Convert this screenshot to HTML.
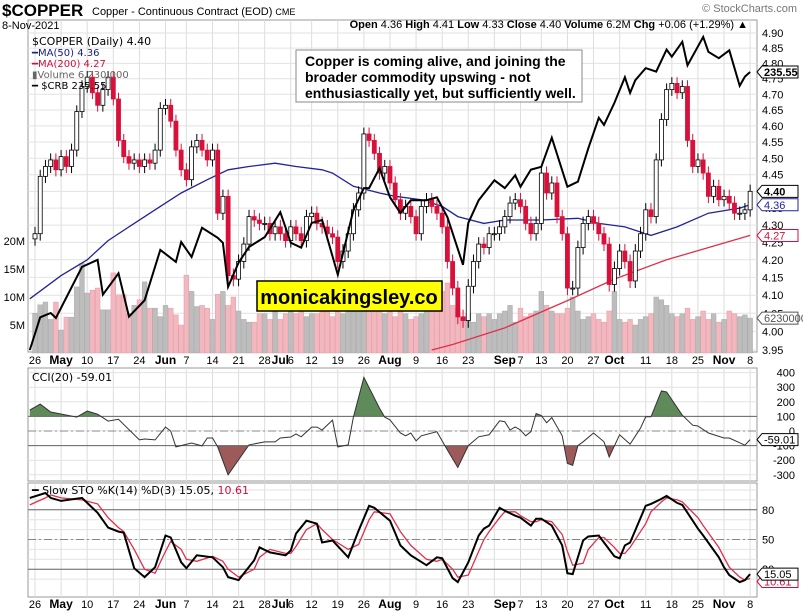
<!DOCTYPE html>
<html><head><meta charset="utf-8">
<style>
html,body{margin:0;padding:0;background:#fff;}
body{width:803px;height:611px;overflow:hidden;position:relative;font-family:"Liberation Sans",sans-serif;}
svg{position:absolute;left:0;top:0;}
</style></head>
<body>
<svg id="chart" width="803" height="611" viewBox="0 0 803 611" xmlns="http://www.w3.org/2000/svg" font-family="Liberation Sans, sans-serif">
<g id="grid"></g>
<g id="vol"></g>
<g id="ma"></g>
<g id="candles"></g>
<g id="crb"></g>
<g id="cci"></g>
<g id="sto"></g>
<g id="axes"></g>
<g id="hdr">
 <text x="2" y="16" font-size="17" font-weight="bold">$COPPER</text>
 <text x="92" y="15" font-size="11">Copper - Continuous Contract (EOD) <tspan font-size="9">CME</tspan></text>
 <text x="2" y="29" font-size="11">8-Nov-2021</text>
 <text x="797" y="12" font-size="11" fill="#777" text-anchor="end">© StockCharts.com</text>
 <text x="748" y="28" font-size="11" text-anchor="end"><tspan font-weight="bold">Open</tspan> 4.36 <tspan font-weight="bold">High</tspan> 4.41 <tspan font-weight="bold">Low</tspan> 4.33 <tspan font-weight="bold">Close</tspan> 4.40 <tspan font-weight="bold">Volume</tspan> 6.2M <tspan font-weight="bold">Chg</tspan> +0.06 (+1.29%) ▲</text>
</g>
<g id="legend" font-family="DejaVu Sans, sans-serif" font-size="10">
 <text x="32" y="45" font-size="11">$COPPER (Daily) 4.40</text>
 <text x="32" y="56" fill="#1a237e">━MA(50) 4.36</text>
 <text x="32" y="67" fill="#d0103a">━MA(200) 4.27</text>
 <text x="32" y="78" fill="#666">▮Volume 6,230,000</text>
 <text x="32" y="89">━ $CRB 235.55</text>
 <text x="32" y="381" font-size="11">CCI(20) -59.01</text>
 <text x="32" y="494" font-size="11">━ Slow STO %K(14) %D(3) 15.05, <tspan fill="#d0103a">10.61</tspan></text>
</g>
<g>
 <rect x="296" y="50" width="286" height="52" fill="#fff" stroke="#888"/>
 <text x="305" y="66" font-size="14" font-weight="bold">Copper is coming alive, and joining the</text>
 <text x="305" y="82" font-size="14" font-weight="bold">broader commodity upswing - not</text>
 <text x="305" y="98" font-size="14" font-weight="bold">enthusiastically yet, but sufficiently well.</text>
</g>
<g>
 <rect x="257" y="281" width="185" height="30" fill="#ffff00" stroke="#000" stroke-width="1.5"/>
 <text x="349" y="304" font-size="20" font-weight="bold" text-anchor="middle">monicakingsley.co</text>
</g>
</svg>
<script>
// ---- data ----
const closes=[4.275,4.445,4.475,4.495,4.465, 4.505,4.475,4.525,4.645,4.725, 4.755,4.705,4.665,4.715,4.755,
4.685,4.555,4.505,4.485,4.495, 4.475,4.495,4.485,4.525,4.655, 4.665,4.615,4.525,4.465,
4.435,4.535,4.555,4.525,4.495, 4.525,4.335,4.385,4.155,4.145, 4.195,4.245,4.325,4.315,4.305,
4.305,4.275,4.295,4.275,4.255, 4.295,4.275,4.255,4.325, 4.335,4.305,4.295,4.275,4.265,
4.195,4.225,4.275,4.345,4.395, 4.575,4.555,4.515,4.455,4.475, 4.425,4.375,4.335,4.355,4.325,
4.275,4.355,4.375,4.355,4.335, 4.295,4.195,4.12,4.04,4.03, 4.125,4.195,4.245,4.235,4.275,
4.275,4.295,4.325,4.365,4.375, 4.355,4.305,4.275,4.305, 4.455,4.395,4.425,4.325,4.275,
4.12,4.12,4.235,4.305,4.325, 4.305,4.275,4.245,4.13,4.175, 4.225,4.195,4.14,4.225,4.275,
4.345,4.325,4.495,4.62,4.715, 4.735,4.705,4.725,4.555,4.475, 4.495,4.455,4.385,4.415,4.375,
4.385,4.365,4.335,4.335,4.345, 4.40];
const volumes=[7.1,8.6,9.1,6.0,9.1, 4.1,6.4,6.4,11.8,16.0, 10.7,11.2,11.6,7.7,7.7, 14.3,10.4,10.4,7.0,8.5,
9.5,12.7,8.0,8.0,6.5, 8.5,8.0,6.8,5.0, 13.9,11.0,8.3,8.5,8.0, 6.0,10.5,11.0,8.5,10.0, 7.5,6.0,5.5,5.5,7.0,
7.0,6.0,7.5,6.0,7.0, 7.5,7.0,7.5,6.5, 7.0,7.0,7.5,8.0,6.5, 7.5,7.0,8.0,8.0,9.5, 9.5,9.5,9.0,8.0,7.0,
7.5,6.5,8.5,7.0,6.0, 6.5,7.0,8.0,9.0,10.0, 11.0,12.5,8.5,8.0,6.5, 7.0,5.5,7.0,6.5,7.0, 6.0,7.0,7.5,8.5,5.5,
8.0,6.5,7.0,7.5, 11.0,8.5,7.5,7.0,7.0, 8.0,10.0,7.5,6.0,6.5, 7.0,6.0,5.5,7.5,11.0, 6.0,5.5,6.0,5.0,6.0,
6.5,7.0,10.0,9.5,8.5, 7.0,6.5,7.0,8.0,6.0, 6.5,7.5,6.0,7.0,5.5, 6.0,7.5,7.0,6.5,6.8, 6.23];
const ma50Idx=[-1,5,10,14,19,24,28,33,37,41,46,50,55,57,61,66,69,74,78,81,86,90,97,104,108,113,118,123,129,135,137];
const ma50Val=[4.09,4.155,4.20,4.255,4.305,4.355,4.395,4.435,4.465,4.475,4.485,4.475,4.465,4.455,4.415,4.395,4.385,4.375,4.355,4.325,4.305,4.315,4.315,4.32,4.305,4.295,4.27,4.295,4.335,4.35,4.36];
const ma200Idx=[76,80,90,102,111,121,137];
const ma200Val=[3.95,3.965,4.01,4.085,4.145,4.20,4.27];
const crbIdx=[-1,1,3,4,9,12,13,16,18,21,24,27,28,30,32,35,36,37,39,41,44,47,49,51,53,55,58,61,63,64,66,68,70,72,75,77,79,82,83,85,88,90,92,93,95,97,99,102,104,106,108,109,111,113,114,115,117,119,121,122,124,125,128,129,131,133,135,136,137];
const crbVal=[196.4,201.0,201.6,200.9,208.1,209.1,204.2,207.2,201.1,203.4,210.5,208.8,211.6,209.5,213.6,212.2,211.5,205.3,208.7,210.9,212.3,215.8,211.5,210.8,214.3,214.7,207.0,216.1,219.2,219.2,222.0,217.9,215.7,217.5,217.5,217.9,215.1,208.4,214.3,217.5,220.3,219.2,221.0,219.4,221.8,222.2,226.3,219.4,220.1,224.8,229.1,228.1,231.2,234.8,232.6,234.4,236.1,235.6,238.7,237.7,239.8,236.5,240.5,238.4,237.5,238.6,233.6,234.9,235.55];
const cciIdx=[-1,1,3,8,10,12,14,16,20,21,23,25,26,27,30,32,33,34,35,37,41,44,46,47,49,50,51,53,54,55,57,58,60,61,63,66,67,68,70,71,72,73,74,77,79,81,83,85,87,89,90,91,92,93,94,95,96,97,98,99,101,102,103,104,105,107,109,110,112,114,116,117,118,120,121,124,126,127,129,132,133,136,137];
const cciVal=[143,184,130,95,136,115,68,80,-61,-55,-61,27,0,-109,-82,-102,-48,-48,-109,-300,-95,-75,-75,-48,-41,-20,-40,27,27,7,75,-109,-95,95,367,156,95,76,-14,-33,-14,-67,-33,-5,-130,-250,-100,-40,-26,70,64,7,28,7,-33,-5,120,106,57,92,-33,-222,-235,-100,-74,-14,-74,-178,-26,-90,20,97,97,274,267,108,40,34,-14,-48,-48,-97,-59];
const stoIdx=[-1,2,3,5,9,12,14,16,17,19,21,23,25,26,28,29,31,34,36,37,39,42,43,45,48,49,50,52,54,55,57,60,62,64,65,68,70,72,75,77,78,80,81,83,85,86,87,89,90,92,93,95,96,97,99,101,102,103,105,106,108,109,111,112,113,114,117,118,120,121,123,124,127,128,131,132,133,135,136,137];
const stoK=[92,97,92,89,92,77,62,58,57,21,12,22,54,52,27,21,34,32,22,12,9,29,42,37,34,39,56,69,66,47,49,32,59,84,82,69,44,34,24,32,31,11,7,27,54,61,64,82,79,74,72,64,71,71,64,44,16,15,49,53,54,47,33,31,44,47,84,86,91,94,87,85,61,54,32,22,14,7,9,15.05];
const stoD=[85,92,95,92,90,86,72,62,58,40,20,16,38,48,40,30,28,33,28,20,12,20,32,40,36,36,43,60,66,60,50,40,45,70,78,76,58,44,30,28,30,20,12,14,38,50,58,72,78,78,74,68,68,70,68,55,38,24,26,40,52,52,42,36,36,42,66,78,88,92,90,88,72,64,42,32,22,12,9,10.61];
const priceTicks=[3.95,4.00,4.05,4.10,4.15,4.20,4.25,4.30,4.35,4.40,4.45,4.50,4.55,4.60,4.65,4.70,4.75,4.80,4.85,4.90];
const volTicks=[5,10,15,20];
const cciTicks=[400,300,200,100,0,-100,-200,-300];
const stoTicks=[80,50,20];
const weekIdx=[0,5,10,15,20,25,29,34,39,44,49,53,58,63,68,73,78,83,88,93,97,102,107,112,117,122,127,132,137];
const dateLabels=['26','May','10','17','24','Jun','7','14','21','28','Jul','6','12','19','26','Aug','9','16','23','Sep','7','13','20','27','Oct','11','18','25','Nov','8'];
const dateIdx=[0,5,10,15,20,25,29,34,39,44,47,49,53,58,63,68,73,78,83,90,93,97,102,107,111,117,122,127,132,137];

// ---- scales ----
const L=28,R=757;
const xOf=i=>35+i*5.22;
const yP=p=>33+(Math.log(4.90)-Math.log(p))*1471;
const yC=v=>72+(235.55-v)*7.1;
const yV=v=>353-v*5.6;
const yCCI=v=>431-v*0.146;
const yS=v=>589-v*0.99;
const NS='http://www.w3.org/2000/svg';
function mk(tag,attrs,parent){const e=document.createElementNS(NS,tag);for(const k in attrs)e.setAttribute(k,attrs[k]);parent.appendChild(e);return e;}
const G=id=>document.getElementById(id);

// panels & grid
const grid=G('grid');
[[20,352],[368,481],[483,597]].forEach(([t,b])=>{
  mk('rect',{x:L,y:t,width:R-L,height:b-t,fill:'#fff',stroke:'#999'},grid);
  weekIdx.forEach(i=>{const l=mk('line',{x1:xOf(i),x2:xOf(i),y1:t,y2:b,stroke:'#ddd'},grid);});
});
priceTicks.forEach(p=>{mk('line',{x1:L,x2:R,y1:yP(p),y2:yP(p),stroke:'#e2e2e2'},grid);});
cciTicks.forEach(v=>{mk('line',{x1:L,x2:R,y1:yCCI(v),y2:yCCI(v),stroke:'#e2e2e2'},grid);});
for(let v=10;v<=100;v+=10){mk('line',{x1:L,x2:R,y1:yS(v),y2:yS(v),stroke:'#e2e2e2'},grid);}

// volume
const vol=G('vol');
volumes.forEach((v,i)=>{
  const down=i>0&&closes[i]<closes[i-1];
  const b=mk('rect',{x:xOf(i)-2.4,y:yV(v),width:4.8,height:353-yV(v),fill:down?'#f2b8c0':'#bdbdbd',stroke:down?'#e89aa5':'#aaa','stroke-width':0.5},vol);
  
  
});

// moving averages
const ma=G('ma');
function poly(idx,val,fy,attrs,parent){const pts=idx.map((i,k)=>xOf(i).toFixed(1)+','+fy(val[k]).toFixed(1)).join(' ');return mk('polyline',Object.assign({points:pts,fill:'none'},attrs),parent);}
const m200=poly(ma200Idx,ma200Val,yP,{stroke:'#e0304a','stroke-width':1.3},ma);


const m50=poly(ma50Idx,ma50Val,yP,{stroke:'#23239a','stroke-width':1.3},ma);



// candles
const cg=G('candles');
closes.forEach((c,i)=>{
  const o=i>0?closes[i-1]:4.26;
  const up=c>=o;
  const hi=Math.max(o,c)+0.02, lo=Math.min(o,c)-0.02;
  const x=xOf(i);
  const col=up?'#000':'#d8103a';
  const w=mk('line',{x1:x,x2:x,y1:yP(hi),y2:yP(lo),stroke:col,'stroke-width':1},cg);
  
  
  const top=yP(Math.max(o,c)),bot=yP(Math.min(o,c));
  const b=mk('rect',{x:x-2,y:top,width:4,height:Math.max(1,bot-top),fill:up?'#fff':'#d8103a',stroke:col,'stroke-width':0.8},cg);
  
  
});

// CRB
const crbL=poly(crbIdx,crbVal,yC,{stroke:'#000','stroke-width':2},G('crb'));



// CCI
const cci=G('cci');
const defs=mk('defs',{},cci);
const c1=mk('clipPath',{id:'above'},defs);mk('rect',{x:L,y:368,width:R-L,height:yCCI(100)-368},c1);
const c2=mk('clipPath',{id:'below'},defs);mk('rect',{x:L,y:yCCI(-100),width:R-L,height:481-yCCI(-100)},c2);
const linePts=cciIdx.map((i,k)=>xOf(i).toFixed(1)+','+yCCI(cciVal[k]).toFixed(1));
const x0=xOf(cciIdx[0]),x1=xOf(cciIdx[cciIdx.length-1]);
const fa=mk('polygon',{points:x0+','+yCCI(100)+' '+linePts.join(' ')+' '+x1+','+yCCI(100),fill:'#5f8a5a','clip-path':'url(#above)'},cci);


const fb=mk('polygon',{points:x0+','+yCCI(-100)+' '+linePts.join(' ')+' '+x1+','+yCCI(-100),fill:'#9c5a5a','clip-path':'url(#below)'},cci);


mk('line',{x1:L,x2:R,y1:yCCI(100),y2:yCCI(100),stroke:'#666'},cci);
mk('line',{x1:L,x2:R,y1:yCCI(-100),y2:yCCI(-100),stroke:'#666'},cci);
mk('line',{x1:L,x2:R,y1:yCCI(0),y2:yCCI(0),stroke:'#888','stroke-dasharray':'8,3,2,3'},cci);
const cl=mk('polyline',{points:linePts.join(' '),fill:'none',stroke:'#333','stroke-width':1},cci);



// Stochastic
const sto=G('sto');
mk('line',{x1:L,x2:R,y1:yS(80),y2:yS(80),stroke:'#666'},sto);
mk('line',{x1:L,x2:R,y1:yS(20),y2:yS(20),stroke:'#666'},sto);
mk('line',{x1:L,x2:R,y1:yS(50),y2:yS(50),stroke:'#888','stroke-dasharray':'8,3,2,3'},sto);
const dl=poly(stoIdx,stoD,yS,{stroke:'#e0304a','stroke-width':1.3},sto);


const kl=poly(stoIdx,stoK,yS,{stroke:'#000','stroke-width':2},sto);



// axes labels
const ax=G('axes');
function txt(x,y,s,attrs){const t=mk('text',Object.assign({x:x,y:y,'font-size':11},attrs||{}),ax);t.textContent=s;return t;}
priceTicks.forEach(p=>{const t=txt(762,yP(p)+4,p.toFixed(2));});
volTicks.forEach(v=>{const t=txt(25,yV(v)+4,v+'M',{'text-anchor':'end'});});
cciTicks.forEach(v=>{const t=txt(795,yCCI(v)+4,String(v),{'text-anchor':'end'});});
stoTicks.forEach(v=>{const t=txt(762,yS(v)+4,String(v));});
[364,608].forEach(y=>{dateLabels.forEach((s,k)=>{const bold=/[A-Za-z]/.test(s);const t=txt(xOf(dateIdx[k]),y,s,{'text-anchor':'middle','font-weight':bold?'bold':'normal','font-size':bold?12:11});});});
function tag(y,s,col,bold){
  const g=mk('g',{},ax);
  mk('path',{d:`M757 ${y} l5 -6 h36 v12 h-36 z`,fill:'#fff',stroke:col},g);
  const t=mk('text',{x:764,y:y+4,'font-size':11,fill:col,'font-weight':bold?'bold':'normal'},g);t.textContent=s;
  
  
}
tag(yC(235.55),'235.55','#000',true);
tag(yP(4.40),'4.40','#000',true);
tag(yP(4.36),'4.36','#23239a',false);
tag(yP(4.27),'4.27','#d0103a',false);
tag(yV(6.23),'6230000','#555',false);
tag(yCCI(-59.01),'-59.01','#000',false);
tag(yS(10.61)+3,'10.61','#d0103a',false);
tag(yS(15.05),'15.05','#000',false);
</script>
</body></html>
